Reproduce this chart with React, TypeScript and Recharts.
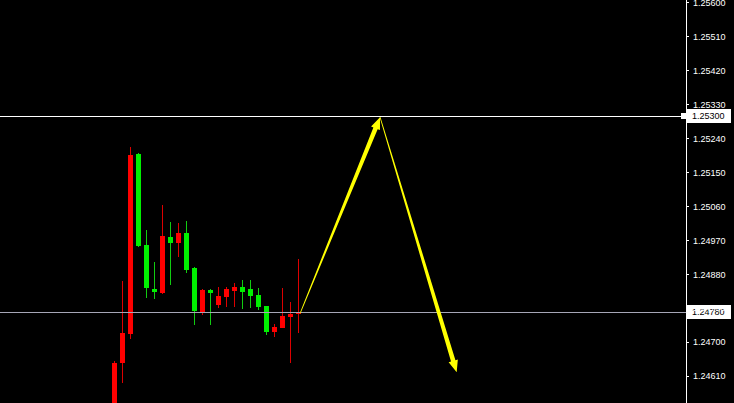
import React from 'react';
import { ComposedChart, Bar, XAxis, YAxis, ReferenceLine } from 'recharts';

// ---- data ----
const candleIndex = [0, 1, 2, 3, 4, 5, 6, 7, 8, 9, 10, 11, 12, 13, 14, 15, 16, 17, 18, 19, 20, 21, 22, 23];
const opens = [1.2453, 1.24644, 1.24722, 1.25198, 1.24958, 1.24841, 1.24831, 1.2498, 1.24962, 1.2499, 1.24898, 1.24781, 1.24838, 1.24799, 1.24821, 1.24836, 1.24847, 1.2484, 1.24825, 1.24796, 1.24726, 1.24738, 1.24768, 1.24777];
const highs = [1.24651, 1.24862, 1.25219, 1.25202, 1.24998, 1.24912, 1.25064, 1.25018, 1.25017, 1.25022, 1.24899, 1.24841, 1.2484, 1.24847, 1.24847, 1.24856, 1.24865, 1.24865, 1.24843, 1.24797, 1.24747, 1.24845, 1.24807, 1.24921];
const lows = [1.2452, 1.24592, 1.24708, 1.24953, 1.24816, 1.24815, 1.24829, 1.24852, 1.24927, 1.24884, 1.24746, 1.24772, 1.24746, 1.24791, 1.24794, 1.24794, 1.24787, 1.24791, 1.24785, 1.24719, 1.24715, 1.24737, 1.24644, 1.24725];
const closes = [1.24646, 1.24725, 1.25197, 1.24955, 1.24843, 1.24834, 1.24982, 1.24962, 1.2499, 1.24891, 1.24783, 1.24838, 1.2483, 1.24823, 1.2484, 1.24847, 1.24834, 1.24823, 1.24794, 1.24726, 1.24741, 1.24769, 1.24775, 1.24781];

const yTicks = [1.256, 1.2551, 1.2542, 1.2533, 1.2524, 1.2515, 1.2506, 1.2497, 1.2488, 1.2479, 1.247, 1.2461];
const yDomain = [1.245386, 1.256078];
const xDomain = [-14.425, 71.325];

const levelPrices = [1.253, 1.2478];

const arrowX = [23.1, 33.08, 42.66];
const arrowY = [1.24777, 1.25297, 1.2462];

// ---- styles ----
const BG = '#000000';
const UP_BODY = '#ff0000';
const UP_WICK = '#dd0000';
const DOWN_BODY = '#00f000';
const DOWN_WICK = '#11cc11';
const ARROW = '#ffff00';
const LEVEL_COLORS = ['#ffffff', '#a6a6b6'];
const FONT = 'Liberation Sans, Arial, sans-serif';

const data = candleIndex.map((i, k) => ({
  i,
  open: opens[k],
  high: highs[k],
  low: lows[k],
  close: closes[k],
  range: [lows[k], highs[k]],
}));

const Candle = (props: any) => {
  const { x, y, width, height, payload } = props;
  if (x == null || y == null) return null;
  const { open, close, high, low } = payload;
  const yTop = Math.min(y, y + height);
  const h = Math.abs(height);
  const toY = (p: number) => yTop + ((high - p) / (high - low)) * h;
  const up = close > open;
  const cx = Math.floor(x + width / 2);
  const bTop = Math.round(toY(Math.max(open, close)));
  const bBot = Math.round(toY(Math.min(open, close)));
  const wTop = Math.round(yTop);
  const wBot = Math.round(yTop + h);
  return (
    <g shapeRendering="crispEdges">
      <rect x={cx} y={wTop} width={1} height={Math.max(1, wBot - wTop)} fill={up ? UP_WICK : DOWN_WICK} />
      <rect x={cx - 2} y={bTop} width={5} height={Math.max(2, bBot - bTop)} fill={up ? UP_BODY : DOWN_BODY} />
    </g>
  );
};

const Arrow = (props: any) => {
  const { x1, y1, x2, y2 } = props;
  const dx = x2 - x1;
  const dy = y2 - y1;
  const L = Math.hypot(dx, dy) || 1;
  const ux = dx / L;
  const uy = dy / L;
  const nx = -uy;
  const ny = ux;
  const head = 12;
  const hw = 4.8;
  const w0 = 0.4;
  const w1 = 2.3;
  const bx = x2 - ux * head;
  const by = y2 - uy * head;
  const pts = [
    [x1 + nx * w0, y1 + ny * w0],
    [bx + nx * w1, by + ny * w1],
    [bx + nx * hw, by + ny * hw],
    [x2, y2],
    [bx - nx * hw, by - ny * hw],
    [bx - nx * w1, by - ny * w1],
    [x1 - nx * w0, y1 - ny * w0],
  ];
  return <polygon points={pts.map((p) => p.join(',')).join(' ')} fill={ARROW} />;
};

const PriceTag = (props: any) => {
  const { viewBox, price, marker } = props;
  if (!viewBox) return null;
  const y = Math.round(viewBox.y);
  const xEnd = Math.round(viewBox.x + viewBox.width);
  return (
    <g shapeRendering="crispEdges">
      {marker ? <rect x={xEnd - 5} y={y - 3} width={5} height={6} fill="#ffffff" /> : null}
      <rect x={xEnd + 1} y={y - 7} width={44} height={14} fill="#ffffff" />
      <text x={xEnd + 6} y={y} dy="0.355em" fontSize={9} fontFamily={FONT} fill="#000000">
        {Number(price).toFixed(5)}
      </text>
    </g>
  );
};

export default function App() {
  return (
    <div style={{ position: 'absolute', left: 0, top: 0, width: 734, height: 403, background: BG, overflow: 'hidden' }}>
      <ComposedChart width={734} height={403} data={data} margin={{ top: 0, right: 0, left: 0, bottom: 0 }}>
        <XAxis type="number" dataKey="i" domain={xDomain} hide allowDataOverflow />
        <YAxis
          orientation="right"
          type="number"
          domain={yDomain}
          ticks={yTicks}
          interval={0}
          width={48}
          allowDataOverflow
          axisLine={{ stroke: '#ffffff', shapeRendering: 'crispEdges' }}
          tickLine={{ stroke: '#ffffff', shapeRendering: 'crispEdges' }}
          tickSize={3}
          tickMargin={4}
          tick={{ fill: '#ffffff', fontSize: 9, fontFamily: FONT }}
          tickFormatter={(v: number) => v.toFixed(5)}
        />
        <Bar dataKey="range" barSize={5} shape={<Candle />} isAnimationActive={false} />
        <ReferenceLine
          y={levelPrices[0]}
          stroke={LEVEL_COLORS[0]}
          strokeWidth={1}
          shapeRendering="crispEdges"
          label={<PriceTag price={levelPrices[0]} marker />}
        />
        <ReferenceLine
          y={levelPrices[1]}
          stroke={LEVEL_COLORS[1]}
          strokeWidth={1}
          shapeRendering="crispEdges"
          label={<PriceTag price={levelPrices[1]} />}
        />
        <ReferenceLine
          segment={[{ x: arrowX[0], y: arrowY[0] }, { x: arrowX[1], y: arrowY[1] }]}
          shape={(p: any) => <Arrow {...p} />}
        />
        <ReferenceLine
          segment={[{ x: arrowX[1], y: arrowY[1] }, { x: arrowX[2], y: arrowY[2] }]}
          shape={(p: any) => <Arrow {...p} />}
        />
      </ComposedChart>
    </div>
  );
}
